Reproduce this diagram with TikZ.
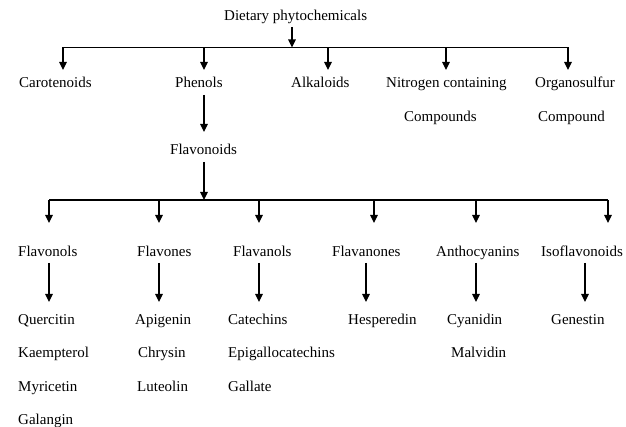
\documentclass[tikz,border=0pt]{standalone}
\usepackage{fontspec}
\setmainfont{Liberation Serif}
\usetikzlibrary{arrows.meta}
\begin{document}
\begin{tikzpicture}[x=1pt,y=-1pt,
  lbl/.style={anchor=base west,inner sep=0pt,font=\fontsize{15}{17}\selectfont},
  conn/.style={line width=1.2pt},
  arr/.style={conn,-{Triangle[width=7.5pt,length=8pt]}}]
\useasboundingbox[fill=white] (0,0) rectangle (626,427);
% texts
\node[lbl] (diet) at (224,20.5) {Dietary phytochemicals};
\node[lbl] (car) at (19,88) {Carotenoids};
\node[lbl] (phe) at (175,88) {Phenols};
\node[lbl] (alk) at (291,88) {Alkaloids};
\node[lbl] (nit) at (386,88) {Nitrogen containing};
\node[lbl] (org) at (535,88) {Organosulfur};
\node[lbl] (nit2) at (404,122) {Compounds};
\node[lbl] (org2) at (538,122) {Compound};
\node[lbl] (flv) at (170,155) {Flavonoids};
\node[lbl] (fol) at (18,257) {Flavonols};
\node[lbl] (fon) at (137,257) {Flavones};
\node[lbl] (fal) at (233,257) {Flavanols};
\node[lbl] (fan) at (332,257) {Flavanones};
\node[lbl] (ant) at (436,257) {Anthocyanins};
\node[lbl] (iso) at (541,257) {Isoflavonoids};
\node[lbl] (q) at (18,324) {Quercitin};
\node[lbl] (k) at (18,357) {Kaempterol};
\node[lbl] (m) at (18,391) {Myricetin};
\node[lbl] (g) at (18,424) {Galangin};
\node[lbl] (ap) at (135,324) {Apigenin};
\node[lbl] (ch) at (138,357) {Chrysin};
\node[lbl] (lu) at (137,391) {Luteolin};
\node[lbl] (ca) at (228,324) {Catechins};
\node[lbl] (ep) at (228,357) {Epigallocatechins};
\node[lbl] (ga) at (228,391) {Gallate};
\node[lbl] (he) at (348,324) {Hesperedin};
\node[lbl] (cy) at (447,324) {Cyanidin};
\node[lbl] (ma) at (451,357) {Malvidin};
\node[lbl] (ge) at (551,324) {Genestin};
% coordinates
\coordinate (t0) at (292,27);
\coordinate (t1) at (292,47.5);
\coordinate (b1) at (63,47.5);
\coordinate (b5) at (568,47.5);
\coordinate (c1) at (63,70);
\coordinate (c2) at (204,70);
\coordinate (c3) at (328,70);
\coordinate (c4) at (446,70);
\coordinate (c5) at (568,70);
\coordinate (p0) at (204,95);
\coordinate (p1) at (204,132);
\coordinate (f0) at (204,162);
\coordinate (f1) at (204,200);
\coordinate (e1) at (49,200);
\coordinate (e6) at (608,200);
\coordinate (s1) at (49,223);
\coordinate (s2) at (159,223);
\coordinate (s3) at (259,223);
\coordinate (s4) at (374,223);
\coordinate (s5) at (476,223);
\coordinate (s6) at (608,223);
\coordinate (u1) at (49,263);
\coordinate (v1) at (49,302);
\coordinate (u2) at (159,263);
\coordinate (v2) at (159,302);
\coordinate (u3) at (259,263);
\coordinate (v3) at (259,302);
\coordinate (u4) at (366,263);
\coordinate (v4) at (366,302);
\coordinate (u5) at (476,263);
\coordinate (v5) at (476,302);
\coordinate (u6) at (585,263);
\coordinate (v6) at (585,302);
% connectors
\draw[arr] (t0) -- (t1);
\draw[conn] (b1) -- (b5);
\foreach \c in {c1,c2,c3,c4,c5} \draw[arr] (b1 -| \c) -- (\c);
\draw[arr] (p0) -- (p1);
\draw[arr] (f0) -- (f1);
\draw[conn] (e1) -- (e6);
\foreach \c in {s1,s2,s3,s4,s5,s6} \draw[arr] (e1 -| \c) -- (\c);
\foreach \i in {1,...,6} \draw[arr] (u\i) -- (v\i);
\end{tikzpicture}
\end{document}
